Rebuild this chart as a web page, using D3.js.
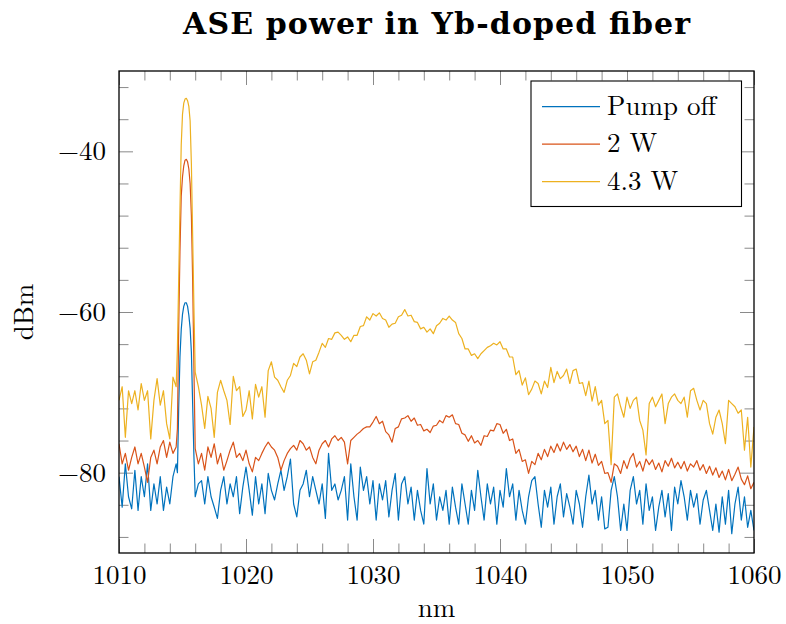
<!DOCTYPE html>
<html><head><meta charset="utf-8">
<script src="https://cdn.jsdelivr.net/npm/d3@7"></script>
<style>body{margin:0;background:#fff} svg{display:block}</style>
</head><body>
<svg id="chart" width="786" height="624"></svg>
<script>
// ---------- data ----------
const seriesNames  = ["Pump off", "2 W", "4.3 W"];
const seriesColors = ["#0072bd", "#d95319", "#edb120"];
const xTicks = [1010, 1020, 1030, 1040, 1050, 1060];
const yTicks = [-40, -60, -80];
const titleText = "ASE power in Yb-doped fiber";
const xLabel = "nm";
const yLabel = "dBm";

// wavelength sampling (nm): coarse left, fine around the pump line, coarse right
const wlPeak = [1014.6, 1014.7, 1014.8, 1014.9, 1015.0, 1015.1, 1015.2, 1015.3,
                1015.4, 1015.5, 1015.6, 1015.7, 1015.8, 1015.9, 1016.0];
const wavelengths = [...d3.range(1010, 1014.5001, 0.25), ...wlPeak, ...d3.range(1016.25, 1060.0001, 0.25)];

const pumpOff = [
  // 1010 - 1014.5
  -80.5,-84.3,-78.9,-83,-84.5,-79.7,-84.7,-80.5,-83,-78.9,-84.7,-81.4,-83.9,-80.5,-84.7,-81.8,-83.9,-80.5,-78.9,
  // 1014.6 - 1016.0
  -80,-72,-65.6,-62.2,-60.3,-59.3,-58.85,-58.85,-59.3,-60.4,-62,-65,-71.5,-78,-83,
  // 1016.25 - 1060
  -81.4,-81,-83.9,
  -80.5,-83,-84.3,-85.7, -82.2,-80.5,-83.9,-81.4, -83,-80.5,-85.1,-81.8,
  -79.3,-82.2,-85.3,-80.5, -83.9,-81.4,-85.1,-80.1, -82.2,-83.4,-81.4,-79.7,
  -82.2,-80.5,-78.3,-83.9, -85.5,-82.2,-81.4,-79.7, -83,-80.5,-82.2,-83.9,
  -81.4,-85.7,-77.6,-82.2, -81.4,-83.4,-82.2,-80.5, -85.9,-78.9,-83,-85.9,
  -79.3,-82.2,-80.5,-83.9, -81,-85.9,-81.4,-83.4, -81,-85.5,-82.2,-80.1,
  -85.9,-81.4,-80.5,-83.9, -81.8,-85.9,-82.2,-84.7, -86.4,-79.5,-83.9,-81.4,
  -85.9,-83,-84.7,-82.2, -86.4,-81.8,-84.3,-86.4, -81.4,-83.9,-86.4,-82.2,
  -84.7,-79.7,-83,-85.9, -81.4,-83.9,-81.8,-86.4, -82.2,-84.3,-79.5,-83,
  -81.4,-85.9,-82.2,-84.7, -86.4,-83,-81,-80.5, -83.9,-86.8,-82.2,-84.3,
  -81.8,-86.4,-83,-81.4, -85.5,-82.6,-84.3,-86.4, -82.2,-83.9,-86.8,-83,
  -80.3,-83.9,-82.2,-85.9, -83,-87,-86.8,-82.2, -80.5,-83,-87.2,-83.9,
  -87.2,-82.2,-80.5,-83.9, -82.2,-86.4,-81.4,-84.7, -83,-87.2,-84.3,-82.2,
  -85.5,-82.6,-87.2,-81.8, -83.9,-81,-83,-85.9, -82.2,-84.3,-82.6,-86.4,
  -83.4,-82.2,-84.7,-87.2, -83.9,-87.4,-83,-86.4, -82.2,-87.6,-83.9,-81.8,
  -85.9,-83,-86.8,-84.7,
  -87.2
];

const pump2W = [
  -76.4,-78.9,-77.6,-79.7,-78.1,-76.8,-78.9,-77.6,-79.3,-81.2,-78.1,-77.2,-78.9,-76.8,-76,-78.1,-76.2,-77.6,-76.8,
  -74.5,-62,-52.5,-45.6,-43.2,-41.8,-41.1,-41.0,-41.3,-42.2,-44.0,-48,-56,-67,-77,
  -78.9,-77.6,-79.7,
  -76.8,-78.1,-76.4,-78.9, -77.6,-79.7,-78.5,-77.2, -76.2,-78.1,-77.6,-78.5,
  -77.2,-78.9,-79.9,-78.1, -78.5,-77.6,-76.8,-76.2, -76.8,-77.2,-78.1,-79.7,
  -78.5,-77.6,-77,-76.6, -77.2,-76,-76.4,-77.2, -76.8,-78.1,-78.9,-77.2,
  -76.4,-76,-76.8,-75.8, -75.4,-76,-75.6,-76.2, -78.9,-76,-75.6,-75.2,
  -74.9,-74.5,-74.3,-74.3, -73.7,-73.0,-73.9,-73.6, -74.9,-75.3,-76.2,-74.5,
  -74.3,-73.3,-73.2,-72.9, -73.6,-73.2,-74.1,-74.0, -74.8,-74.6,-75.0,-74.2,
  -74.1,-73.5,-73.8,-72.9, -73.1,-72.8,-73.9,-74.0, -75.1,-75.3,-76.1,-75.4,
  -76.3,-76.0,-76.6,-75.4, -75.5,-74.7,-74.8,-73.9, -74.0,-75.1,-74.6,-76.0,
  -75.8,-77.6,-77.1,-78.6, -78.4,-80.1,-78.6,-79.0, -77.6,-78.4,-77.1,-78.0,
  -76.7,-77.5,-76.4,-77.3, -76.2,-77.1,-76.5,-77.4, -76.7,-78.0,-77.1,-78.5,
  -77.2,-78.8,-77.7,-79.1, -78.6,-80.1,-80.0,-81.2, -78.9,-79.2,-80.1,-78.5,
  -79.5,-78.2,-77.6,-79.3, -78.6,-79.8,-78.3,-79.0, -78.4,-79.6,-78.8,-79.9,
  -78.5,-79.2,-78.2,-79.4, -78.7,-79.5,-78.6,-79.8, -78.9,-79.3,-78.5,-79.7,
  -79.0,-80.1,-79.2,-80.3, -79.4,-80.6,-79.8,-80.9, -79.6,-81.0,-80.2,-79.3,
  -80.8,-81.5,-80.4,-82.0,
  -81.2
];

const pump43W = [
  -71,-69.3,-75.6,-69.8,-71.4,-69.8,-72.2,-68.9,-71,-69.8,-75.8,-71,-68.3,-71.6,-69.8,-73.9,-75.8,-68.1,-69.3,
  -64.5,-56,-47.2,-39.2,-35.4,-34.0,-33.5,-33.4,-33.7,-34.4,-36.2,-41.6,-50.6,-59.5,-67.5,
  -69.3,-71.6,-74.5,
  -70.5,-72,-75.6,-70, -68.5,-69.8,-71,-74, -68,-69.8,-69.3,-73,
  -72.2,-69.8,-73.3,-69, -70.6,-69.3,-73.1,-67.3, -66.2,-68.1,-68.5,-69.3,
  -70,-68.5,-67.9,-66.4, -66.8,-65.6,-65.2,-66, -67.7,-66.2,-66,-65,
  -63.9,-64.4,-63.3,-63.4, -62.6,-62.5,-62.9,-63.4, -63.1,-63.7,-62.9,-62.9,
  -61.8,-61.7,-60.6,-61.0, -60.2,-60.5,-60.1,-60.8, -61.0,-61.9,-61.5,-61.4,
  -60.6,-60.4,-59.7,-60.5, -60.4,-61.2,-61.3,-62.1, -61.9,-62.5,-62.1,-62.7,
  -61.7,-61.4,-60.8,-61.0, -60.5,-61.0,-61.3,-62.7, -63.3,-64.6,-64.6,-65.4,
  -65.2,-65.8,-65.2,-64.8, -64.4,-64.2,-63.9,-64.1, -63.7,-64.6,-64.6,-65.6,
  -65.6,-67.8,-67.3,-69.1, -68.2,-70.3,-69.6,-68.6, -68.9,-70.2,-68.6,-69.4,
  -66.9,-68.8,-67.4,-68.3, -67.9,-67.1,-68.9,-67.3, -67.1,-68.9,-68.8,-70.4,
  -68.6,-71.1,-69.3,-71.6, -71.0,-73.9,-73.5,-79, -70.6,-70.2,-71.8,-73.1,
  -70.6,-72,-71,-70.6, -73.5,-74.7,-77.8,-71.4, -70.6,-71.8,-71,-70.2,
  -73.9,-71.4,-70.6,-70.2, -71,-71.4,-70.6,-73.1, -69.8,-69.5,-71,-72.2,
  -71,-71.4,-73.9,-75.2, -73.1,-72.2,-73.9,-76.4, -71,-71.4,-71.8,-72.6,
  -72.2,-77.2,-73.1,-79.3,
  -74.3
];
const seriesValues = [pumpOff, pump2W, pump43W];

// ---------- layout ----------
const svg = d3.select("#chart");
const W = 786, H = 624;
const plot = {left: 119, top: 71, right: 754, bottom: 553};
const FONT = "'Latin Modern Roman','CMU Serif','Liberation Serif',serif";

const x = d3.scaleLinear().domain([1010, 1060]).range([plot.left, plot.right]);
const y = d3.scaleLinear().domain([-90, -30]).range([plot.bottom, plot.top]);

svg.append("rect").attr("width", W).attr("height", H).attr("fill", "#fff");

svg.append("defs").append("clipPath").attr("id", "clip")
  .append("rect").attr("x", plot.left).attr("y", plot.top)
  .attr("width", plot.right - plot.left).attr("height", plot.bottom - plot.top);

// ---------- ticks ----------
const minorX = d3.range(1010, 1060.001, 2).filter(v => !xTicks.includes(v));
const minorY = d3.range(-88, -30, 4).filter(v => !yTicks.includes(v));
const tickColor = "#8a8a8a";
const MAJ = 14, MIN = 9.5;

function styleAxis(g) {
  g.select(".domain").remove();
  g.selectAll(".tick line").attr("stroke", tickColor).attr("stroke-width", 1);
}

// minor ticks (all four sides)
svg.append("g").attr("transform", `translate(0,${plot.bottom})`)
  .call(d3.axisBottom(x).tickValues(minorX).tickSize(-MIN).tickFormat("")).call(styleAxis);
svg.append("g").attr("transform", `translate(0,${plot.top})`)
  .call(d3.axisTop(x).tickValues(minorX).tickSize(-MIN).tickFormat("")).call(styleAxis);
svg.append("g").attr("transform", `translate(${plot.left},0)`)
  .call(d3.axisLeft(y).tickValues(minorY).tickSize(-MIN).tickFormat("")).call(styleAxis);
svg.append("g").attr("transform", `translate(${plot.right},0)`)
  .call(d3.axisRight(y).tickValues(minorY).tickSize(-MIN).tickFormat("")).call(styleAxis);

// major ticks with labels
const fmt = d3.format("d");
const xAxisG = svg.append("g").attr("transform", `translate(0,${plot.bottom})`)
  .call(d3.axisBottom(x).tickValues(xTicks).tickSize(-MAJ).tickFormat(fmt)).call(styleAxis);
xAxisG.selectAll("text").attr("y", 31).attr("dy", null)
  .attr("font-family", FONT).attr("font-size", 27).attr("fill", "#000");
svg.append("g").attr("transform", `translate(0,${plot.top})`)
  .call(d3.axisTop(x).tickValues(xTicks).tickSize(-MAJ).tickFormat("")).call(styleAxis);

const yAxisG = svg.append("g").attr("transform", `translate(${plot.left},0)`)
  .call(d3.axisLeft(y).tickValues(yTicks).tickSize(-MAJ).tickPadding(13).tickFormat(fmt)).call(styleAxis);
yAxisG.selectAll("text").attr("x", -13).attr("dy", "0.32em")
  .attr("font-family", FONT).attr("font-size", 27).attr("fill", "#000");
svg.append("g").attr("transform", `translate(${plot.right},0)`)
  .call(d3.axisRight(y).tickValues(yTicks).tickSize(-MAJ).tickFormat("")).call(styleAxis);

// ---------- series ----------
const line = d3.line().x(d => x(d[0])).y(d => y(d[1]));
const gLines = svg.append("g").attr("clip-path", "url(#clip)");
seriesValues.forEach((vals, i) => {
  const pts = wavelengths.map((w, j) => [w, vals[j]]);
  gLines.append("path").datum(pts)
    .attr("d", line).attr("fill", "none")
    .attr("stroke", seriesColors[i]).attr("stroke-width", 1.2)
    .attr("stroke-linejoin", "round");
});

// frame
svg.append("rect").attr("x", plot.left).attr("y", plot.top)
  .attr("width", plot.right - plot.left).attr("height", plot.bottom - plot.top)
  .attr("fill", "none").attr("stroke", "#000").attr("stroke-width", 1.3);

// ---------- legend ----------
const leg = svg.append("g");
leg.append("rect").attr("x", 531).attr("y", 81).attr("width", 210.5).attr("height", 125.5)
  .attr("fill", "#fff").attr("stroke", "#000").attr("stroke-width", 1.1);
seriesNames.forEach((name, i) => {
  const ly = 106.7 + i * 37.5;
  leg.append("line").attr("x1", 542).attr("x2", 600).attr("y1", ly).attr("y2", ly)
    .attr("stroke", seriesColors[i]).attr("stroke-width", 1.2);
  leg.append("text").attr("x", 607).attr("y", ly + 8)
    .attr("font-family", FONT).attr("font-size", 27).text(name);
});

// ---------- titles ----------
svg.append("text").attr("x", (plot.left + plot.right) / 2).attr("y", 34)
  .attr("text-anchor", "middle").attr("font-family", "'DejaVu Serif',serif")
  .attr("font-weight", "bold").attr("font-size", 30)
  .attr("textLength", 507).attr("lengthAdjust", "spacing").text(titleText);
svg.append("text").attr("x", (plot.left + plot.right) / 2).attr("y", 617)
  .attr("text-anchor", "middle").attr("font-family", FONT).attr("font-size", 27).text(xLabel);
svg.append("text").attr("transform", `translate(33,${(plot.top + plot.bottom) / 2}) rotate(-90)`)
  .attr("text-anchor", "middle").attr("font-family", FONT).attr("font-size", 27).text(yLabel);
</script>
</body></html>
